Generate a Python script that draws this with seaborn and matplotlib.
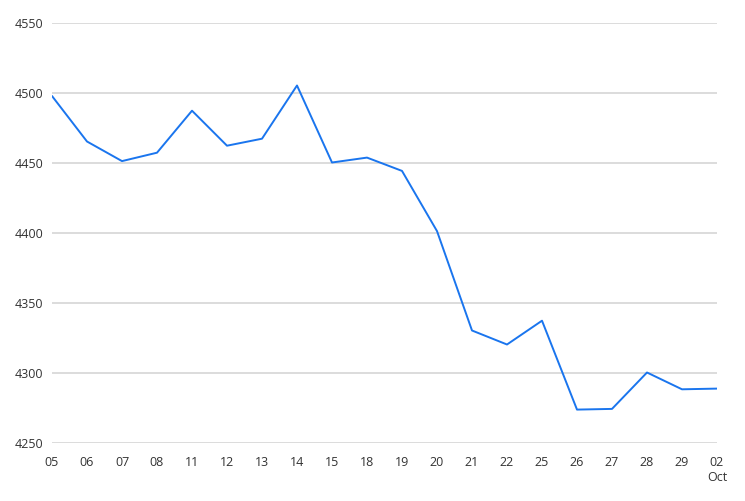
import numpy as np
import pandas as pd
import seaborn as sns
import matplotlib
matplotlib.use("Agg")
import matplotlib.pyplot as plt

days = ["05", "06", "07", "08", "11", "12", "13", "14", "15", "18",
        "19", "20", "21", "22", "25", "26", "27", "28", "29", "02\nOct"]
close = [4497.5, 4465, 4451, 4457, 4487, 4462, 4467, 4505, 4450, 4453.5,
         4444, 4401, 4330, 4320, 4337, 4273.5, 4274, 4300, 4288, 4288.5]
yticks = [4250, 4300, 4350, 4400, 4450, 4500, 4550]

sns.set_style("white")
plt.rcParams['font.family'] = ['Open Sans', 'DejaVu Sans']

df = pd.DataFrame({"pos": np.arange(len(days)), "close": close})

fig = plt.figure(figsize=(7.45, 5.02), dpi=100)
ax = fig.add_axes([52/745, 58.5/502, 665/745, 420/502])

for v in yticks:
    ax.axhline(v, color="#d6d6d6", lw=1.2, zorder=0)

sns.lineplot(data=df, x="pos", y="close", ax=ax, color="#1a75ee", lw=1.4, zorder=3)

ax.set_xlim(0, len(days) - 1)
ax.set_ylim(yticks[0], yticks[-1])
ax.set_xticks(df["pos"])
ax.set_xticklabels(days)
ax.set_yticks(yticks)
ax.set_xlabel("")
ax.set_ylabel("")
for s in ax.spines.values():
    s.set_visible(False)
ax.tick_params(axis="x", length=5, width=1.2, color="#d6d6d6", pad=4,
               labelsize=9, labelcolor="#333333")
ax.tick_params(axis="y", length=0, pad=6, labelsize=9, labelcolor="#333333")

fig.savefig("out.png", dpi=100)
